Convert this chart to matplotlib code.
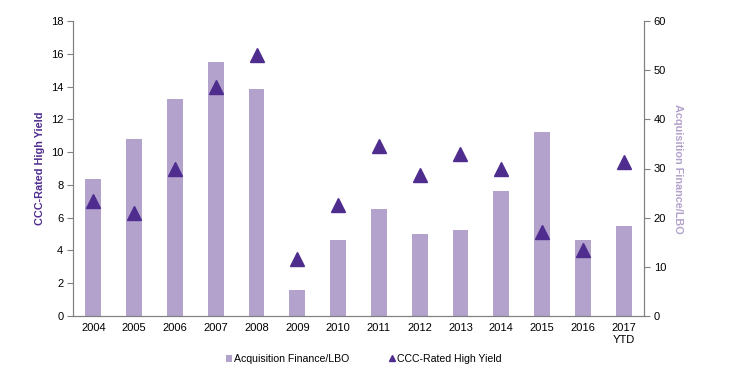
import matplotlib.pyplot as plt
import numpy as np

plt.rcParams['font.family'] = ['Liberation Sans', 'DejaVu Sans']

years = ['2004', '2005', '2006', '2007', '2008', '2009', '2010',
         '2011', '2012', '2013', '2014', '2015', '2016', '2017\nYTD']
lbo = [27.9, 35.9, 44.2, 51.6, 46.2, 5.2, 15.5,
       21.8, 16.7, 17.4, 25.5, 37.5, 15.4, 18.4]
ccc = [7.0, 6.3, 9.0, 14.0, 15.9, 3.5, 6.8,
       10.4, 8.6, 9.9, 9.0, 5.1, 4.0, 9.4]

bar_color = '#B3A2CC'
tri_color = '#4F2D8F'
axis_color = '#808080'

fig = plt.figure(figsize=(7.41, 3.69), dpi=100)
ax = fig.add_axes([73 / 741, 1 - 316 / 369, (644 - 73) / 741, (316 - 21) / 369])
ax2 = ax.twinx()

x = np.arange(len(years))
bars = ax2.bar(x, lbo, width=0.39, color=bar_color, label='Acquisition Finance/LBO')
tris, = ax.plot(x, ccc, linestyle='none', marker='^', markersize=10,
                color=tri_color, label='CCC-Rated High Yield')

# triangles above the bars
ax.set_zorder(ax2.get_zorder() + 1)
ax.patch.set_visible(False)

ax.set_xlim(-0.5, len(years) - 0.5)
ax.set_ylim(0, 18)
ax.set_yticks(range(0, 19, 2))
ax2.set_ylim(0, 60)
ax2.set_yticks(range(0, 61, 10))

ax.set_xticks(x)
ax.set_xticklabels(years)
ax.tick_params(axis='x', length=0, pad=5, labelsize=8)
ax.tick_params(axis='y', length=4, color=axis_color, labelsize=8, pad=3)
ax2.tick_params(axis='y', length=4, color=axis_color, labelsize=8, pad=3)

for a in (ax, ax2):
    a.spines['top'].set_visible(False)
    for s in ('left', 'right', 'bottom'):
        a.spines[s].set_color(axis_color)

ax.set_ylabel('CCC-Rated High Yield', color=tri_color, fontsize=7.8,
              fontweight='bold', labelpad=4)
ax2.set_ylabel('Acquisition Finance/LBO', color=bar_color, fontsize=7.8,
               fontweight='bold', rotation=270, labelpad=12)

fig.legend(handles=[bars, tris], loc='center', bbox_to_anchor=(0.4905, 0.027),
           ncol=2, frameon=False, fontsize=7.6, handlelength=0.6,
           handletextpad=0.2, columnspacing=3.7, markerscale=0.45)

fig.savefig('out.png', dpi=100)
